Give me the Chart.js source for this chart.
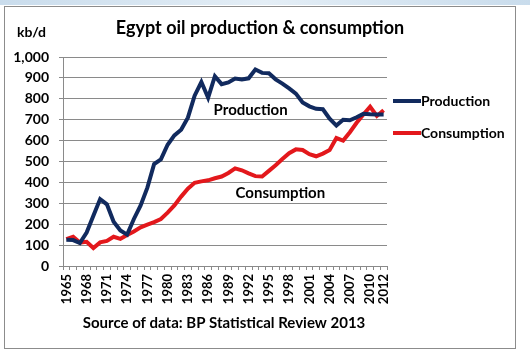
<!DOCTYPE html>
<html>
<head>
<meta charset="utf-8">
<script src="https://cdn.jsdelivr.net/npm/chart.js@4"></script>
<style>
  html, body { margin: 0; padding: 0; background: #fff; }
  #wrap { width: 530px; height: 354px; position: relative; }
</style>
</head>
<body>
<div id="wrap"><canvas id="oilChart" width="530" height="354"></canvas></div>
<script>
const years = [
    "1965", "1966", "1967", "1968", "1969", "1970", "1971", "1972", "1973", "1974",
    "1975", "1976", "1977", "1978", "1979", "1980", "1981", "1982", "1983", "1984",
    "1985", "1986", "1987", "1988", "1989", "1990", "1991", "1992", "1993", "1994",
    "1995", "1996", "1997", "1998", "1999", "2000", "2001", "2002", "2003", "2004",
    "2005", "2006", "2007", "2008", "2009", "2010", "2011", "2012"
];

// kb/d
const production = [
    126, 124, 110, 160, 240, 320, 295, 212, 170, 150,
    225, 290, 375, 488, 510, 580, 625, 652, 710, 815,
    880, 805, 908, 870, 878, 897, 893, 898, 940, 924,
    922, 893, 873, 850, 825, 783, 764, 752, 750, 705,
    672, 700, 697, 712, 728, 726, 725, 725
];

const consumption = [
    128, 140, 112, 116, 86, 113, 120, 140, 130, 148,
    165, 185, 198, 210, 225, 255, 290, 332, 370, 398,
    405, 410, 420, 428, 445, 467, 458, 443, 430, 428,
    455, 482, 512, 540, 558, 555, 535, 525, 538, 555,
    612, 600, 640, 685, 725, 762, 718, 745
];

const yTicks = [0, 100, 200, 300, 400, 500, 600, 700, 800, 900, 1000];

const BLUE = "#112a5e";
const RED = "#e3181c";
const GRID = "#8a8a8a";
const FONT = "Lato, 'Open Sans', sans-serif";

// frame, title, legend and the two in-plot labels
const decorations = {
    id: "decorations",
    beforeDraw(chart) {
        const ctx = chart.ctx;
        ctx.save();
        const g = ctx.createLinearGradient(0, 0, 530, 0);
        g.addColorStop(0, "#c9dcec");
        g.addColorStop(0.5, "#e4eef6");
        g.addColorStop(1, "#c9dcec");
        ctx.fillStyle = g;
        ctx.fillRect(0, 0, 530, 5);
        ctx.strokeStyle = "#8c8c8c";
        ctx.lineWidth = 1;
        ctx.strokeRect(4.5, 6.5, 511, 342);
        ctx.restore();
    },
    afterDraw(chart) {
        const ctx = chart.ctx;
        const xs = chart.scales.x;
        const ys = chart.scales.y;
        ctx.save();
        ctx.fillStyle = "#000";
        ctx.textBaseline = "middle";

        ctx.textAlign = "center";
        ctx.font = "bold 18px " + FONT;
        ctx.fillText("Egypt oil production & consumption", 260, 28);

        ctx.textAlign = "left";
        ctx.font = "bold 14px " + FONT;
        ctx.fillText("kb/d", 17, 32);

        ctx.textAlign = "center";
        ctx.font = "bold 15px " + FONT;
        ctx.fillText("Source of data: BP Statistical Review 2013", 224, 323);

        // labels inside the plot
        ctx.font = "bold 15px " + FONT;
        ctx.fillText("Production", xs.getPixelForValue(27.3), ys.getPixelForValue(748));
        ctx.fillText("Consumption", xs.getPixelForValue(31.7), ys.getPixelForValue(350));

        // legend
        const items = [["Production", BLUE, 101], ["Consumption", RED, 133]];
        ctx.textAlign = "left";
        ctx.font = "bold 14px " + FONT;
        items.forEach(([name, color, y]) => {
            ctx.strokeStyle = color;
            ctx.lineWidth = 4;
            ctx.beginPath();
            ctx.moveTo(393, y);
            ctx.lineTo(421, y);
            ctx.stroke();
            ctx.fillText(name, 421, y);
        });
        ctx.restore();
    }
};

const ctx = document.getElementById("oilChart").getContext("2d");
new Chart(ctx, {
    type: "line",
    data: {
        labels: years,
        datasets: [
            {
                label: "Production",
                data: production,
                borderColor: BLUE,
                backgroundColor: BLUE,
                borderWidth: 4,
                pointRadius: 0,
                tension: 0,
                fill: false
            },
            {
                label: "Consumption",
                data: consumption,
                borderColor: RED,
                backgroundColor: RED,
                borderWidth: 4,
                pointRadius: 0,
                tension: 0,
                fill: false
            }
        ]
    },
    options: {
        responsive: false,
        animation: false,
        events: [],
        layout: { padding: { left: 0, top: 57, right: 143, bottom: 0 } },
        plugins: {
            legend: { display: false },
            title: { display: false },
            tooltip: { enabled: false }
        },
        scales: {
            x: {
                offset: true,
                afterFit: scale => { scale.height = 88; },
                grid: {
                    display: true,
                    offset: true,
                    drawOnChartArea: false,
                    drawTicks: true,
                    tickLength: 4,
                    color: GRID
                },
                border: { display: true, color: GRID },
                ticks: {
                    autoSkip: false,
                    minRotation: 90,
                    maxRotation: 90,
                    padding: 4,
                    color: "#000",
                    font: { family: FONT, size: 13, weight: "bold" },
                    callback: (val, i) => (i % 3 === 0 || i === years.length - 1) ? years[i] : ""
                }
            },
            y: {
                min: 0,
                max: 1000,
                afterFit: scale => { scale.width = 63; },
                afterBuildTicks: scale => { scale.ticks = yTicks.map(v => ({ value: v })); },
                grid: {
                    color: GRID,
                    lineWidth: 1,
                    tickLength: 4
                },
                border: { display: true, color: GRID },
                ticks: {
                    padding: 10,
                    color: "#000",
                    font: { family: FONT, size: 14, weight: "bold" },
                    callback: v => v.toLocaleString("en-US")
                }
            }
        }
    },
    plugins: [decorations]
});
</script>
</body>
</html>
